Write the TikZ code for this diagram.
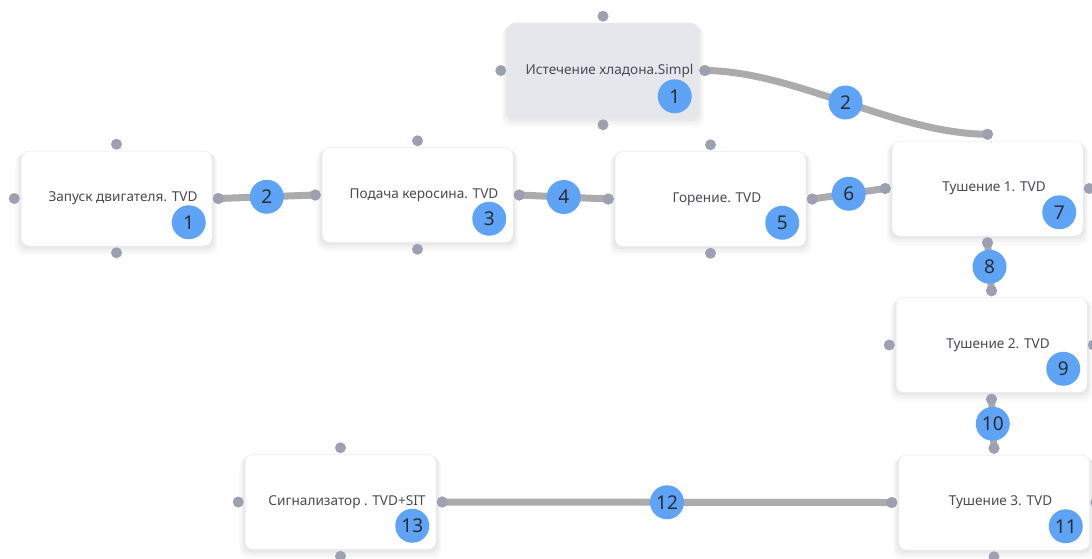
\documentclass[tikz,border=0pt]{standalone}
\usepackage{fontspec}
\setmainfont{Noto Sans}
\usetikzlibrary{shadows,calc}
\definecolor{boxline}{HTML}{E8E8EE}
\definecolor{topfill}{HTML}{E6E7EC}
\definecolor{conncol}{HTML}{ABABAB}
\definecolor{dotcol}{HTML}{9CA0B0}
\definecolor{badgecol}{HTML}{5FA3F7}
\definecolor{txtcol}{HTML}{4A4A52}
\definecolor{numcol}{HTML}{2B2B33}
\tikzset{
  stepbox/.style={draw=boxline, line width=0.5pt, fill=white, rounded corners=8pt,
    minimum width=191pt, minimum height=95pt, inner sep=0pt,
    text=txtcol, font=\fontsize{13.6}{15}\selectfont,
    general shadow={shadow xshift=0pt, shadow yshift=-2pt, shadow scale=1.02, opacity=0.035, fill=black},
    general shadow={shadow xshift=0pt, shadow yshift=-4pt, shadow scale=1.04, opacity=0.03, fill=black},
    general shadow={shadow xshift=0pt, shadow yshift=-6pt, shadow scale=1.06, opacity=0.02, fill=black}},
  topbox/.style={stepbox, fill=topfill},
  port/.style={circle, fill=dotcol, minimum size=11pt, inner sep=0pt},
  badge/.style={circle, fill=badgecol, minimum size=34pt, inner sep=0pt,
    text=numcol, font=\fontsize{19}{21}\selectfont},
  conn/.style={draw=conncol, line width=7pt}
}
\begin{document}
\begin{tikzpicture}[x=1pt, y=-1pt]
\useasboundingbox (0,0) rectangle (1092,558);
% boxes
\node[topbox] (b0) at (603,70.5) {\hspace*{13pt}Истечение хладона.Simpl};
\node[stepbox] (b1) at (116.5,198.5) {\hspace*{13pt}Запуск двигателя. TVD};
\node[stepbox] (b3) at (417.5,195) {\hspace*{13pt}Подача керосина. TVD};
\node[stepbox] (b5) at (710.5,199) {\hspace*{13pt}Горение. TVD};
\node[stepbox] (b7) at (987.5,188.5) {\hspace*{13pt}Тушение 1. TVD};
\node[stepbox] (b9) at (991.5,345) {\hspace*{13pt}Тушение 2. TVD};
\node[stepbox] (b11) at (994,502.5) {\hspace*{13pt}Тушение 3. TVD};
\node[stepbox] (b13) at (340.5,502) {\hspace*{13pt}Сигнализатор . TVD+SIT};
% ports
\foreach \b in {b0,b1,b3,b5,b7,b9,b11,b13}{
  \node[port] (\b n) at ([yshift=6.5pt]\b.north) {};
  \node[port] (\b s) at ([yshift=-6.5pt]\b.south) {};
  \node[port] (\b w) at ([xshift=-6.5pt]\b.west) {};
  \node[port] (\b e) at ([xshift=6pt]\b.east) {};
}
% connectors
\path[conn] (b1e.center) -- (b3w.center);
\path[conn] (b3e.center) -- (b5w.center);
\path[conn] (b5e.center) -- (b7w.center);
\path[conn] (b0e.center) .. controls (795,71) and (896,134) .. (b7n.center);
\path[conn] (b7s.center) -- (b9n.center);
\path[conn] (b9s.center) -- (b11n.center);
\path[conn] (b11w.center) -- (b13e.center);
% redraw ports over connector ends
\foreach \p in {b1e,b3w,b3e,b5w,b5e,b7w,b0e,b7n,b7s,b9n,b9s,b11n,b11w,b13e}{
  \fill[dotcol] (\p.center) circle (5.5pt);
}
% connector badges
\node[badge] (c2) at ($(b1e)!0.5!(b3w)$) {2};
\node[badge] (c4) at ($(b3e)!0.5!(b5w)$) {4};
\node[badge] (c6) at ($(b5e)!0.5!(b7w)$) {6};
\node[badge] (c2b) at (845.5,102.5) {2};
\node[badge] (c8) at ($(b7s)!0.5!(b9n)$) {8};
\node[badge] (c10) at ($(b9s)!0.5!(b11n)$) {10};
\node[badge] (c12) at ($(b11w)!0.5!(b13e)$) {12};
% box badges
\node[badge] (n0) at ($(b0.south east)+(-24,-22)$) {1};
\node[badge] (n1) at ($(b1.south east)+(-23.5,-24)$) {1};
\node[badge] (n3) at ($(b3.south east)+(-24,-24)$) {3};
\node[badge] (n5) at ($(b5.south east)+(-24,-24)$) {5};
\node[badge] (n7) at ($(b7.south east)+(-24,-24)$) {7};
\node[badge] (n9) at ($(b9.south east)+(-24,-24)$) {9};
\node[badge] (n11) at ($(b11.south east)+(-24,-24)$) {11};
\node[badge] (n13) at ($(b13.south east)+(-24,-24)$) {13};
\end{tikzpicture}
\end{document}
